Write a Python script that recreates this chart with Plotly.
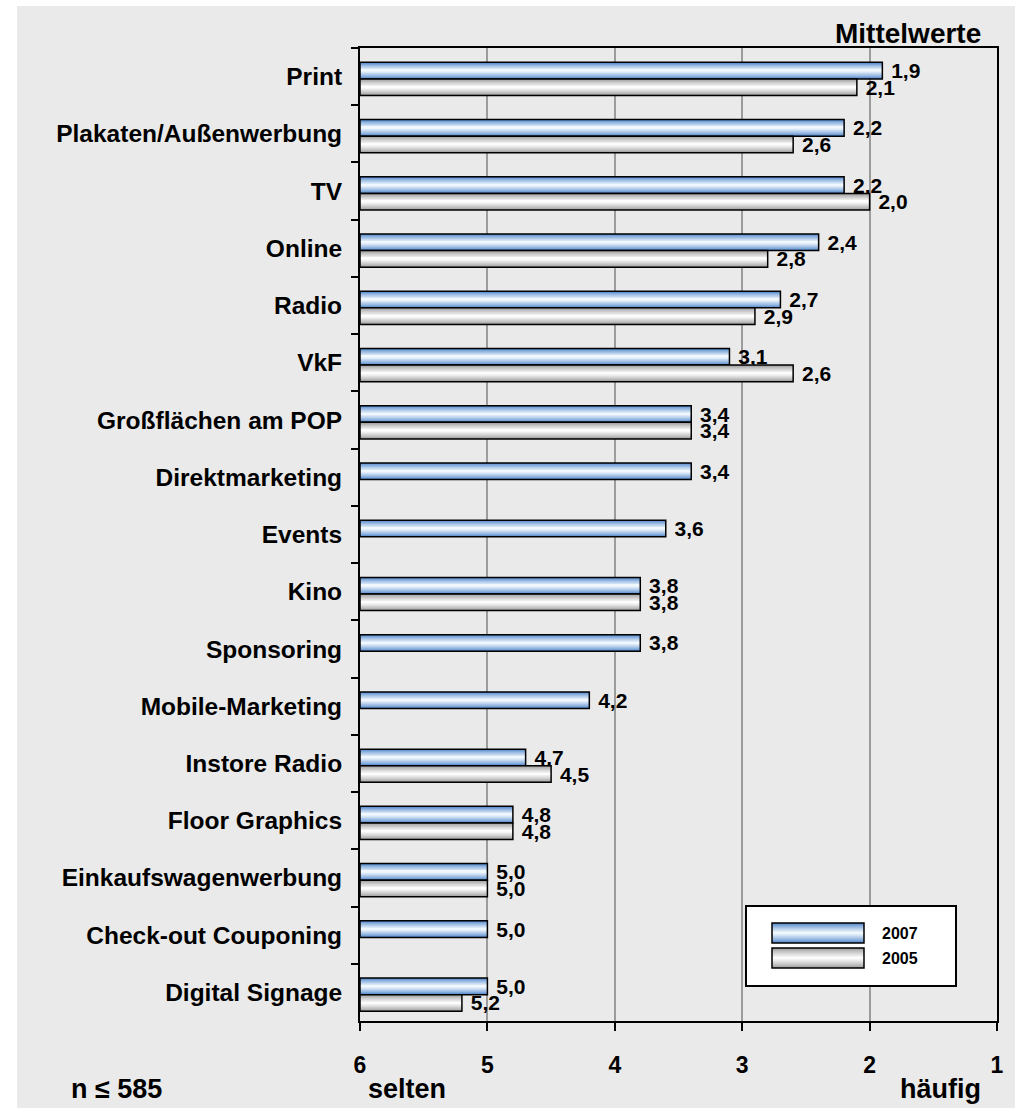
import plotly.graph_objects as go

# Mittelwerte (1 = häufig, 6 = selten)
categories = [
    "Print", "Plakaten/Außenwerbung", "TV", "Online", "Radio", "VkF",
    "Großflächen am POP", "Direktmarketing", "Events", "Kino", "Sponsoring",
    "Mobile-Marketing", "Instore Radio", "Floor Graphics",
    "Einkaufswagenwerbung", "Check-out Couponing", "Digital Signage",
]
values_2007 = [1.9, 2.2, 2.2, 2.4, 2.7, 3.1, 3.4, 3.4, 3.6, 3.8, 3.8, 4.2, 4.7, 4.8, 5.0, 5.0, 5.0]
values_2005 = [2.1, 2.6, 2.0, 2.8, 2.9, 2.6, 3.4, None, None, 3.8, None, None, 4.5, 4.8, 5.0, None, 5.2]
x_ticks = [6, 5, 4, 3, 2, 1]

FONT = "Arial, Liberation Sans, sans-serif"
BG = "#EAEAEA"
W, H = 1015, 1108
L, R, T, B = 360, 18, 48, 87
PW, PH = W - L - R, H - T - B
BAR_W = 0.29
N_LAYERS = 9


def px(x):
    return (x - L) / PW


def py(y):
    return 1 - (y - T) / PH


def mix(c1, c2, t):
    a = [int(c1[i:i + 2], 16) for i in (1, 3, 5)]
    b = [int(c2[i:i + 2], 16) for i in (1, 3, 5)]
    return "#" + "".join(f"{round(a[i] + (b[i] - a[i]) * t):02x}" for i in range(3))


def label(v):
    return "" if v is None else "\u00a0" + f"{v:.1f}".replace(".", ",")


series = [
    ("2007", values_2007, -0.25, "#4d85cb", "#f0f7fd"),
    ("2005", values_2005, 0.04, "#999999", "#fcfcfc"),
]

fig = go.Figure()
for name, vals, off, edge, centre in series:
    base = [6 if v is not None else None for v in vals]
    lens = [v - 6 if v is not None else None for v in vals]
    # gradient: stacked layers getting thinner and lighter towards the middle
    for k in range(N_LAYERS):
        w = BAR_W * (1 - k / N_LAYERS)
        t = (k / (N_LAYERS - 1)) ** 0.8
        fig.add_trace(go.Bar(
            y=categories, x=lens, base=base, orientation="h",
            width=w, offset=off + (BAR_W - w) / 2,
            marker=dict(color=mix(edge, centre, t), line=dict(width=0)),
            showlegend=False, hoverinfo="skip",
        ))
    # outline + value labels
    fig.add_trace(go.Bar(
        y=categories, x=lens, base=base, orientation="h",
        width=BAR_W, offset=off, name=name,
        marker=dict(color="rgba(0,0,0,0)", line=dict(color="black", width=1.5)),
        text=[label(v) for v in vals], textposition="outside",
        constraintext="none", cliponaxis=False,
        textfont=dict(family=FONT, size=21, color="black", weight="bold"),
        showlegend=False,
        hovertemplate="%{y}: %{text}<extra>" + name + "</extra>",
    ))

shapes = [
    # white margin strips on the left and top
    dict(type="rect", xref="paper", yref="paper", x0=px(0), x1=px(17), y0=py(H), y1=py(0),
         fillcolor="white", line=dict(width=0), layer="below"),
    dict(type="rect", xref="paper", yref="paper", x0=px(0), x1=px(W), y0=py(6), y1=py(0),
         fillcolor="white", line=dict(width=0), layer="below"),
    # legend box
    dict(type="rect", xref="paper", yref="paper", x0=px(746), x1=px(956), y0=py(986), y1=py(906),
         fillcolor="white", line=dict(color="black", width=2)),
]
annotations = []
for i, (name, vals, off, edge, centre) in enumerate(series):
    top, bot = 923 + i * 25, 943 + i * 25
    h = bot - top
    for k in range(N_LAYERS):
        hh = h * (1 - k / N_LAYERS)
        t = (k / (N_LAYERS - 1)) ** 0.8
        shapes.append(dict(type="rect", xref="paper", yref="paper",
                           x0=px(772), x1=px(864),
                           y0=py(bot - (h - hh) / 2), y1=py(top + (h - hh) / 2),
                           fillcolor=mix(edge, centre, t), line=dict(width=0)))
    shapes.append(dict(type="rect", xref="paper", yref="paper",
                       x0=px(772), x1=px(864), y0=py(bot), y1=py(top),
                       line=dict(color="black", width=1.5)))
    annotations.append(dict(text=name, xref="paper", yref="paper", x=px(880), y=py((top + bot) / 2),
                            xanchor="left", yanchor="middle", showarrow=False,
                            font=dict(family=FONT, size=16, color="black", weight="bold")))

big = dict(family=FONT, size=27, color="black", weight="bold")
annotations += [
    dict(text="Mittelwerte", xref="paper", yref="paper", x=px(983), y=py(33),
         xanchor="right", yanchor="middle", showarrow=False,
         font=dict(family=FONT, size=28, color="black", weight="bold")),
    dict(text="n ≤ 585", xref="paper", yref="paper", x=px(69), y=py(1089),
         xanchor="left", yanchor="middle", showarrow=False, font=big),
    dict(text="selten", xref="paper", yref="paper", x=px(366), y=py(1089),
         xanchor="left", yanchor="middle", showarrow=False, font=big),
    dict(text="häufig", xref="paper", yref="paper", x=px(983), y=py(1089),
         xanchor="right", yanchor="middle", showarrow=False, font=big),
]

fig.update_layout(
    width=W, height=H,
    margin=dict(l=L, r=R, t=T, b=B, pad=0),
    paper_bgcolor=BG, plot_bgcolor=BG,
    barmode="overlay", showlegend=False,
    shapes=shapes, annotations=annotations,
    font=dict(family=FONT, color="black"),
)
fig.update_xaxes(
    range=[6, 1], tickvals=x_ticks, ticktext=[str(v) for v in x_ticks],
    showgrid=True, gridcolor="#9c9c9c", gridwidth=1.5, zeroline=False,
    showline=True, linecolor="black", linewidth=2, mirror=True,
    ticks="outside", ticklen=8, tickwidth=1.5, tickcolor="black",
    ticklabelstandoff=14,
    tickfont=dict(family=FONT, size=23, color="black", weight="bold"),
)
fig.update_yaxes(
    categoryorder="array", categoryarray=categories, autorange="reversed",
    showgrid=False, zeroline=False,
    showline=True, linecolor="black", linewidth=2, mirror=True,
    ticks="outside", tickson="boundaries", ticklen=7, tickwidth=1.5, tickcolor="black",
    ticklabelstandoff=11,
    tickfont=dict(family=FONT, size=24.5, color="black", weight="bold"),
)

fig.write_html("out.html", config={"displayModeBar": False},
               post_script="document.body.style.margin = '0';")
